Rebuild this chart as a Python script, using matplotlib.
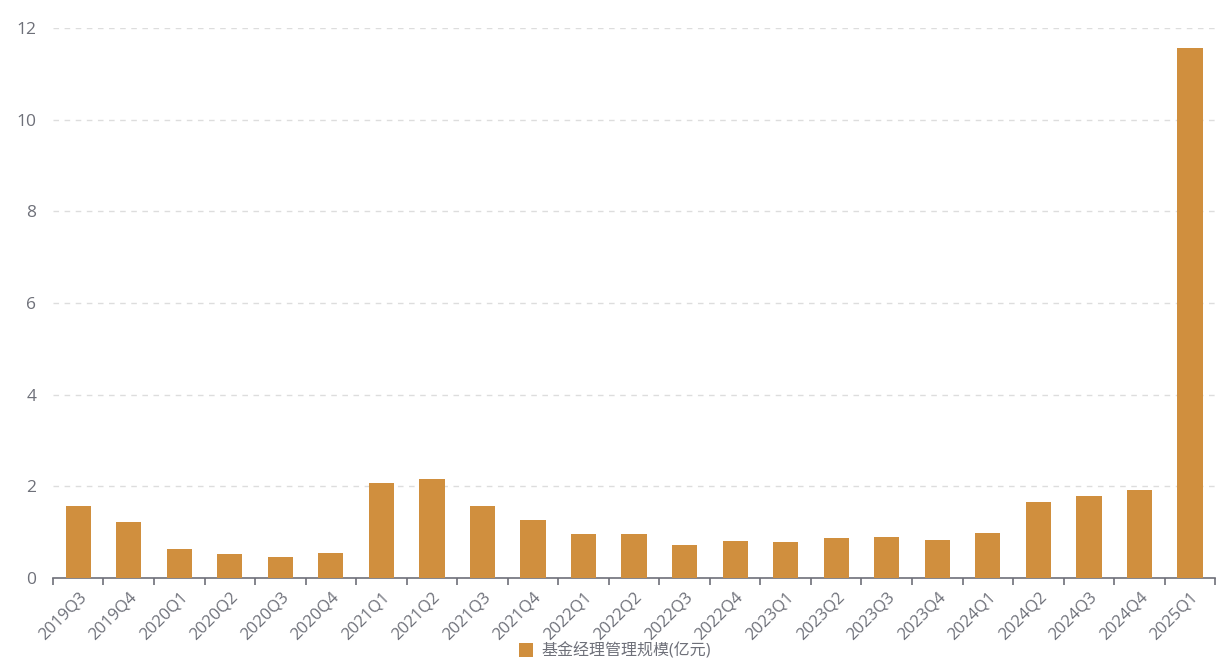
import matplotlib.pyplot as plt
import numpy as np

plt.rcParams['font.family'] = ['Open Sans', 'Noto Sans CJK SC', 'DejaVu Sans']

# Quarterly data
quarters = ['2019Q3', '2019Q4', '2020Q1', '2020Q2', '2020Q3', '2020Q4',
            '2021Q1', '2021Q2', '2021Q3', '2021Q4', '2022Q1', '2022Q2',
            '2022Q3', '2022Q4', '2023Q1', '2023Q2', '2023Q3', '2023Q4',
            '2024Q1', '2024Q2', '2024Q3', '2024Q4', '2025Q1']
scale = [1.57, 1.22, 0.63, 0.52, 0.46, 0.55,
         2.07, 2.16, 1.57, 1.27, 0.96, 0.96,
         0.72, 0.81, 0.79, 0.87, 0.89, 0.83,
         0.98, 1.66, 1.79, 1.92, 11.57]
series_name = '基金经理管理规模(亿元)'
bar_color = '#D08F3E'

fig = plt.figure(figsize=(12.3, 6.66), dpi=100)
ax = fig.add_axes([0.043, 0.132, 0.945, 0.826])

x = np.arange(len(quarters))
ax.bar(x, scale, width=0.5, color=bar_color, label=series_name, zorder=3)

ax.set_xlim(-0.5, len(quarters) - 0.5)
ax.set_ylim(0, 12)
ax.set_yticks([0, 2, 4, 6, 8, 10, 12])

# Grid lines
ax.grid(axis='y', linestyle=(0, (4, 4)), color='#DDDDDD', linewidth=1, zorder=0)

# Spines
for side in ['top', 'right', 'left']:
    ax.spines[side].set_visible(False)
ax.spines['bottom'].set_color('#6E7079')
ax.spines['bottom'].set_linewidth(1.2)

# Category ticks: labels at centres, tick marks at boundaries
ax.set_xticks(x)
ax.set_xticklabels(quarters, rotation=45, ha='right', rotation_mode='anchor')
ax.set_xticks(np.arange(-0.5, len(quarters)), minor=True)
ax.tick_params(axis='x', which='major', length=0, pad=8, labelsize=12, labelcolor='#6E7079')
ax.tick_params(axis='x', which='minor', length=5, color='#6E7079', width=1.2)
ax.tick_params(axis='y', length=0, pad=12, labelsize=12.5, labelcolor='#6E7079')

fig.legend(loc='lower center', bbox_to_anchor=(0.5, -0.012), frameon=False,
           fontsize=11.5, handlelength=0.9, handleheight=0.9, handletextpad=0.5,
           labelcolor='#6E7079')

fig.savefig('out.png', dpi=100)
